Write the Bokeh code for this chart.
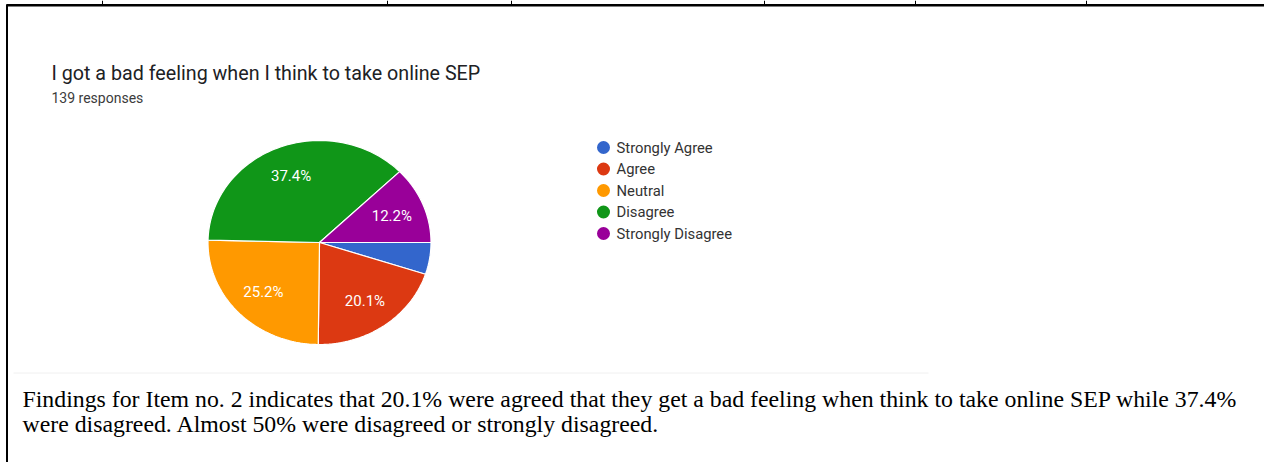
import numpy as np
from bokeh.plotting import figure
from bokeh.models import Range1d
from bokeh.core.properties import value
from bokeh.embed import file_html
from bokeh.resources import INLINE

# ---- data ----
categories = ["Strongly Agree", "Agree", "Neutral", "Disagree", "Strongly Disagree"]
counts = [7, 28, 35, 52, 17]
colors = ["#3366cc", "#dc3912", "#ff9900", "#109618", "#990099"]
title = "I got a bad feeling when I think to take online SEP"
subtitle = "139 responses"
caption = [
    "Findings for Item no. 2 indicates that 20.1% were agreed that they get a bad feeling when think to take online SEP while 37.4%",
    "were disagreed. Almost 50% were disagreed or strongly disagreed.",
]
table_ticks = [102, 387, 511, 764, 915, 1086]

W, H = 1264, 462
p = figure(width=W, height=H, x_range=Range1d(0, W), y_range=Range1d(H, 0),
           output_backend="svg", toolbar_location=None, min_border=0)
p.axis.visible = False
p.grid.visible = False
p.outline_line_color = None
p.background_fill_color = "white"
p.border_fill_color = "white"

# ---- table frame ----
p.segment(x0=[6], y0=[4.8], x1=[W], y1=[4.8], line_color="black", line_width=2.5)
p.segment(x0=[6.5], y0=[4], x1=[6.5], y1=[H], line_color="black", line_width=2)
p.segment(x0=table_ticks, y0=[0] * len(table_ticks), x1=table_ticks, y1=[4] * len(table_ticks),
          line_color="black", line_width=1)
# faint edge of the pasted screenshot
p.segment(x0=[13], y0=[372.5], x1=[928], y1=[372.5], line_color="#f0f0f0", line_width=1)

# ---- title ----
p.text(x=[51], y=[73], text=[title], text_font=value("Roboto"), text_font_size="19.7px",
       text_color="#202124", text_baseline="middle", text_align="left")
p.text(x=[51], y=[97.5], text=[subtitle], text_font=value("Roboto"), text_font_size="14px",
       text_color="#3c3c3c", text_baseline="middle", text_align="left")

# ---- pie (elliptical, computed from data) ----
cx, cy, rx, ry = 319.0, 242.0, 111.5, 102.0
vals = np.array(counts, dtype=float)
frac = vals / vals.sum()
ends = np.cumsum(frac) * 2 * np.pi
starts = ends - frac * 2 * np.pi
xs, ys, lx, ly, labels = [], [], [], [], []
for s, e, f in zip(starts, ends, frac):
    t = np.linspace(s, e, 80)
    xs.append(list(np.concatenate([[cx], cx + rx * np.cos(t), [cx]])))
    ys.append(list(np.concatenate([[cy], cy + ry * np.sin(t), [cy]])))
    m = (s + e) / 2
    lx.append(cx + 0.7 * rx * np.cos(m))
    ly.append(cy + 0.7 * ry * np.sin(m))
    labels.append(f"{f*100:.1f}%" if f > 0.08 else "")
p.patches(xs=xs, ys=ys, fill_color=colors, line_color="white", line_width=1.2)
p.text(x=lx, y=ly, text=labels, text_font=value("Roboto"), text_font_size="15px",
       text_color="white", text_align="center", text_baseline="middle")

# ---- legend ----
ly0, lstep = 147, 21.5
leg_y = [ly0 + i * lstep for i in range(len(categories))]
p.scatter(x=[603] * len(categories), y=leg_y, size=13, fill_color=colors, line_color=None)
p.text(x=[616] * len(categories), y=leg_y, text=categories, text_font=value("Roboto"),
       text_font_size="14.8px", text_color="#333333", text_baseline="middle", text_align="left")

# ---- caption ----
p.text(x=[22, 22], y=[398, 423], text=caption, text_font=value("Liberation Serif"),
       text_font_size="23.8px", text_color="black", text_baseline="middle", text_align="left")

open("out.html", "w").write(file_html(p, INLINE))
